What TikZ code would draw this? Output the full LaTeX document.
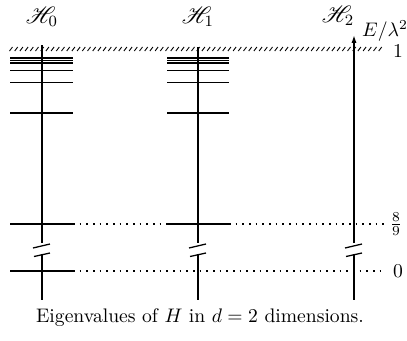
\documentclass[tikz,border=0pt]{standalone}
\usepackage{mathrsfs}
\usetikzlibrary{arrows.meta}
\begin{document}
\begin{tikzpicture}[x=0.51pt,y=-0.51pt,
  axis/.style={line width=0.75pt},
  level/.style={line width=0.65pt},
  guide/.style={line width=0.7pt,dash pattern=on 0.8pt off 2.6pt},
  hatch/.style={line width=0.45pt},
  brk/.style={line width=0.65pt},
  lab/.style={inner sep=0pt}]
\useasboundingbox (0,0) rectangle (407,340);
% labels
\node[lab] (h0) at (42,17) {\large$\mathscr{H}_0$};
\node[lab] (h1) at (198,17) {\large$\mathscr{H}_1$};
\node[lab] (h2) at (338,16) {\large$\mathscr{H}_2$};
\node[lab] (e) at (385,31) {$E/\lambda^2$};
\node[lab] (one) at (398,51) {$1$};
\node[lab] (eight) at (396,224) {$\frac{8}{9}$};
\node[lab] (zero) at (398,271) {$0$};
\node[lab,anchor=base] (cap) at (200,322) {Eigenvalues of $H$ in $d=2$ dimensions.};
% hatch
\foreach \x in {11,16.2,...,382} \draw[hatch] (\x-1.5,51) -- (\x+1.5,47);
% coordinates
\foreach \n/\x/\t in {a/42/45,b/198/47,c/354/35} {
  \coordinate (\n-top) at (\x,\t);
  \coordinate (\n-bu) at (\x,243);
  \coordinate (\n-bl) at (\x,254);
  \coordinate (\n-bot) at (\x,300);
}
\draw[axis] (a-top) -- (a-bu);
\draw[axis] (a-bl) -- (a-bot);
\draw[axis] (b-top) -- (b-bu);
\draw[axis] (b-bl) -- (b-bot);
\draw[axis,-{Latex[length=4pt,width=2.6pt]}] (c-bu) -- (c-top);
\draw[axis] (c-bl) -- (c-bot);
% breaks
\foreach \x in {42,198,354} {
  \draw[brk] (\x-9,248) -- (\x+8,244);
  \draw[brk] (\x-8,256.5) -- (\x+8,253);
}
% upper levels
\foreach \y in {58,60.5,63,70.5,82.5,113} {
  \draw[level] (10,\y) -- (73,\y);
  \draw[level] (167,\y) -- (229,\y);
}
% 8/9 level
\coordinate (n1) at (10,224);
\coordinate (n2) at (73,224);
\coordinate (n3) at (167,224);
\coordinate (n4) at (229,224);
\coordinate (n5) at (385,224);
\draw[level] (n1) -- (n2);
\draw[guide] (n2) -- (n3);
\draw[level] (n3) -- (n4);
\draw[guide] (n4) -- (n5);
% 0 level
\coordinate (z1) at (10,271);
\coordinate (z2) at (73,271);
\coordinate (z3) at (385,271);
\draw[level] (z1) -- (z2);
\draw[guide] (z2) -- (z3);
\end{tikzpicture}
\end{document}
